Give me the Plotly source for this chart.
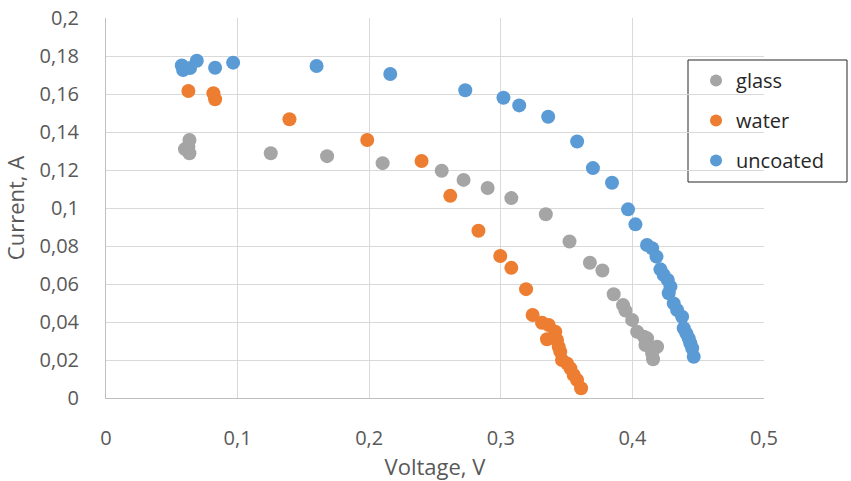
import plotly.graph_objects as go

# Current-voltage measurements for three panel coatings
glass_v = [0.060, 0.0626, 0.0634, 0.0634, 0.1252, 0.1680, 0.2102, 0.2551, 0.2717, 0.2900,
           0.3080, 0.3342, 0.3522, 0.3677, 0.3772, 0.3858, 0.3929, 0.3947, 0.3998, 0.4036,
           0.4087, 0.4112, 0.4099, 0.4188, 0.4150, 0.4157]
glass_i = [0.1310, 0.1323, 0.1358, 0.1288, 0.1288, 0.1273, 0.1236, 0.1196, 0.1148, 0.1105,
           0.1052, 0.0967, 0.0824, 0.0712, 0.0671, 0.0546, 0.0489, 0.0460, 0.0411, 0.0349,
           0.0323, 0.0314, 0.0279, 0.0270, 0.0235, 0.0204]

water_v = [0.0626, 0.0816, 0.0829, 0.1394, 0.1985, 0.2398, 0.2616, 0.2830, 0.2996, 0.3080,
           0.3192, 0.3242, 0.3313, 0.3364, 0.3414, 0.3351, 0.3427, 0.3440, 0.3452, 0.3465,
           0.3503, 0.3529, 0.3554, 0.3580, 0.3610]
water_i = [0.1616, 0.1604, 0.1572, 0.1467, 0.1358, 0.1247, 0.1064, 0.0880, 0.0747, 0.0685,
           0.0573, 0.0437, 0.0396, 0.0384, 0.0349, 0.0309, 0.0305, 0.0270, 0.0244, 0.0200,
           0.0182, 0.0156, 0.0121, 0.0095, 0.0051]

uncoated_v = [0.0576, 0.0586, 0.0639, 0.0690, 0.0829, 0.0966, 0.1600, 0.2160, 0.2730, 0.3020,
              0.3140, 0.3360, 0.3580, 0.3700, 0.3845, 0.3967, 0.4023, 0.4111, 0.4150, 0.4183,
              0.4213, 0.4238, 0.4269, 0.4289, 0.4276, 0.4314, 0.4340, 0.4378, 0.4390, 0.4410,
              0.4428, 0.4440, 0.4454, 0.4466]
uncoated_i = [0.1750, 0.1726, 0.1737, 0.1775, 0.1738, 0.1765, 0.1747, 0.1705, 0.1620, 0.1580,
              0.1540, 0.1480, 0.1350, 0.1210, 0.1133, 0.0993, 0.0914, 0.0805, 0.0788, 0.0744,
              0.0677, 0.0647, 0.0621, 0.0586, 0.0551, 0.0498, 0.0463, 0.0428, 0.0367, 0.0340,
              0.0314, 0.0288, 0.0262, 0.0217]

x_ticks = [0, 0.1, 0.2, 0.3, 0.4, 0.5]
x_tick_text = ["0", "0,1", "0,2", "0,3", "0,4", "0,5"]
y_ticks = [0, 0.02, 0.04, 0.06, 0.08, 0.1, 0.12, 0.14, 0.16, 0.18, 0.2]
y_tick_text = ["0", "0,02", "0,04", "0,06", "0,08", "0,1", "0,12", "0,14", "0,16", "0,18", "0,2"]

series = [
    ("glass", glass_v, glass_i, "#A5A5A5"),
    ("water", water_v, water_i, "#ED7D31"),
    ("uncoated", uncoated_v, uncoated_i, "#5B9BD5"),
]

FONT = "Open Sans, Liberation Sans, sans-serif"
TXT = "#595959"

fig = go.Figure()
for name, v, i, color in series:
    fig.add_trace(go.Scatter(
        x=v, y=i, mode="markers", name=name, legendgroup=name,
        marker=dict(size=14, color=color, line=dict(width=0)),
    ))

fig.update_layout(
    width=851, height=481,
    margin=dict(l=106, r=87, t=18, b=83),
    paper_bgcolor="white", plot_bgcolor="white",
    font=dict(family=FONT, size=20, color=TXT),
    showlegend=True,
    legend=dict(
        x=0.8967, y=0.8868, xanchor="left", yanchor="top",
        bgcolor="rgba(0,0,0,0)", borderwidth=0,
        font=dict(family=FONT, size=20, color="#262626"),
        tracegroupgap=11, itemsizing="constant",
    ),
    shapes=[dict(
        type="rect", xref="paper", yref="paper",
        x0=(688 - 106) / 658, x1=(847 - 106) / 658,
        y0=1 - (182 - 18) / 380, y1=1 - (60 - 18) / 380,
        line=dict(color="#262626", width=1), fillcolor="rgba(0,0,0,0)", layer="below",
    )],
)

fig.update_xaxes(
    range=[0, 0.5], tickvals=x_ticks, ticktext=x_tick_text, automargin=False,
    showgrid=True, gridcolor="#D9D9D9", gridwidth=1,
    showline=True, linecolor="#BFBFBF", linewidth=1,
    zeroline=False, ticks="", ticklabelstandoff=22,
    tickfont=dict(size=20, color=TXT),
    title=dict(text="Voltage, V", font=dict(size=22, color=TXT)),
)
fig.update_yaxes(
    range=[0, 0.2], tickvals=y_ticks, ticktext=y_tick_text, automargin=False,
    showgrid=True, gridcolor="#D9D9D9", gridwidth=1,
    showline=True, linecolor="#BFBFBF", linewidth=1,
    zeroline=False, ticks="", ticklabelstandoff=22,
    tickfont=dict(size=20, color=TXT),
    title=dict(text="Current, A", font=dict(size=22, color=TXT)),
)

fig.write_html("out.html")
